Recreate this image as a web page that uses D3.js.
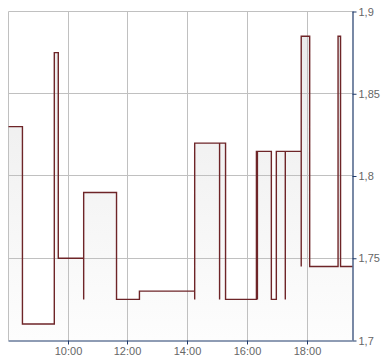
<!DOCTYPE html>
<html>
<head>
<meta charset="utf-8">
<script src="https://cdn.jsdelivr.net/npm/d3@7"></script>
<style>
  html, body { margin: 0; padding: 0; background: #fff; }
  svg { display: block; }
  text { font-family: Arial, "Liberation Sans", sans-serif; font-size: 11px; fill: #666; }
</style>
</head>
<body>
<svg id="chart" width="390" height="364"></svg>
<script>
// Data: step series (time, price). Repeated times are instantaneous spikes.
const times  = ["08:01","08:29","09:33","09:41","10:32","10:32","11:38","12:24","14:15","14:15","15:05","15:05","15:17","16:19","16:21","16:21","16:49","16:59","17:17","17:17","17:49","17:49","18:06","19:03","19:08","19:32"];
const prices = [1.83, 1.71, 1.875, 1.75, 1.725, 1.79, 1.725, 1.73, 1.725, 1.82, 1.725, 1.82, 1.725, 1.815, 1.725, 1.815, 1.725, 1.815, 1.725, 1.815, 1.745, 1.885, 1.745, 1.885, 1.745, 1.745];
const xTickLabels = ["10:00","12:00","14:00","16:00","18:00"];
const yTickValues = [1.7, 1.75, 1.8, 1.85, 1.9];
const yDomain = [1.7, 1.9];
const xDomain = ["08:01","19:32"];

const parse = d3.timeParse("%H:%M");
const data = times.map((t, i) => ({ t: parse(t), v: prices[i] }));

const svg = d3.select("#chart");
const pL = 8.5, pR = 352.5, pT = 11.5, pB = 340.5;

const x = d3.scaleTime().domain(xDomain.map(parse)).range([pL, pR]);
const y = d3.scaleLinear().domain(yDomain).range([pB, pT]);

// gradient for area
const defs = svg.append("defs");
const grad = defs.append("linearGradient").attr("id", "g").attr("gradientUnits", "userSpaceOnUse")
  .attr("x1", 0).attr("x2", 0).attr("y1", pT).attr("y2", pB);
grad.append("stop").attr("offset", "0%").attr("stop-color", "#eaeaea");
grad.append("stop").attr("offset", "100%").attr("stop-color", "#fdfdfd");

// area
const area = d3.area().curve(d3.curveStepAfter).x(d => x(d.t)).y0(y(yDomain[0])).y1(d => y(d.v));
svg.append("path").datum(data).attr("d", area).attr("fill", "url(#g)");

// grid
const grid = svg.append("g").attr("stroke", "#c0c0c0").attr("stroke-width", 1).attr("fill", "none");
const xTicks = xTickLabels.map(parse);
grid.selectAll("line.v").data(xTicks).join("line").attr("class", "v")
  .attr("x1", d => Math.round(x(d)) + 0.5).attr("x2", d => Math.round(x(d)) + 0.5)
  .attr("y1", pT).attr("y2", pB);
grid.selectAll("line.h").data(yTickValues.filter(v => v > yDomain[0])).join("line").attr("class", "h")
  .attr("x1", pL).attr("x2", pR)
  .attr("y1", d => Math.round(y(d) - 0.5) + 0.5).attr("y2", d => Math.round(y(d) - 0.5) + 0.5);
grid.append("line").attr("x1", pL).attr("x2", pL).attr("y1", pT).attr("y2", pB);

// line
const line = d3.line().curve(d3.curveStepAfter).x(d => x(d.t)).y(d => y(d.v));
svg.append("path").datum(data).attr("d", line)
  .attr("fill", "none").attr("stroke", "#6e2528").attr("stroke-width", 1.4);

// axes
const axisColor = "#1f3a6a";
const fmt = v => String(v).replace(".", ",");
const yAxis = svg.append("g").attr("transform", `translate(${pR},0)`)
  .call(d3.axisRight(y).tickValues(yTickValues).tickFormat(fmt).tickSize(4).tickPadding(2));
const xAxis = svg.append("g").attr("transform", `translate(0,${pB})`)
  .call(d3.axisBottom(x).tickValues(xTicks).tickFormat(d3.timeFormat("%H:%M")).tickSize(4).tickPadding(3));
[yAxis, xAxis].forEach(a => {
  a.select(".domain").attr("stroke", axisColor).attr("stroke-width", 1.2);
  a.selectAll(".tick line").attr("stroke", axisColor);
  a.selectAll(".tick text").attr("fill", "#666").style("font-size", "11px")
    .style("font-family", "Arial, 'Liberation Sans', sans-serif");
});
xAxis.select(".domain").attr("d", `M${pL},0.5H${pR}`);
yAxis.select(".domain").attr("d", `M0.5,${pT}V${pB}`);
xAxis.selectAll(".tick").attr("transform", d => `translate(${Math.round(x(d)) + 0.5},0)`);
</script>
</body>
</html>
